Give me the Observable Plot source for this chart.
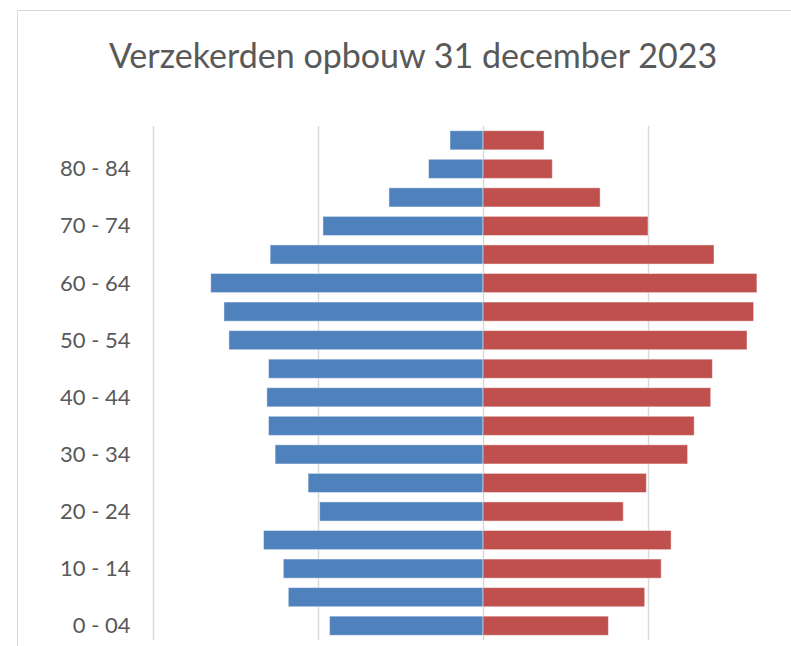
<!DOCTYPE html>
<html>
<head>
<meta charset="utf-8">
<script src="https://cdn.jsdelivr.net/npm/d3@7"></script>
<script src="https://cdn.jsdelivr.net/npm/@observablehq/plot@0.6"></script>
<style>
  html, body { margin: 0; padding: 0; background: #fff; }
  #wrap { position: relative; width: 791px; height: 646px; overflow: hidden; background: #fff; }
  #frame { position: absolute; left: 17px; top: 10px; width: 900px; height: 800px;
           border-left: 1.5px solid #d9d9d9; border-top: 1.5px solid #d9d9d9; box-sizing: border-box; }
  #title { position: absolute; left: 17px; width: 792px; text-align: center; line-height: 1;
           font-family: Lato, "Open Sans", sans-serif; color: #595959; white-space: nowrap; }
  #chart { position: absolute; left: 0; top: 0; }
</style>
</head>
<body>
<div id="wrap">
  <div id="frame"></div>
  <div id="title">Verzekerden opbouw 31 december 2023</div>
  <div id="chart"></div>
</div>
<script>
// Age groups, bottom to top
const ageGroups = ["0 - 04","05 - 09","10 - 14","15 - 19","20 - 24","25 - 29","30 - 34","35 - 39","40 - 44",
                   "45 - 49","50 - 54","55 - 59","60 - 64","65 - 69","70 - 74","75 - 79","80 - 84","85+"];
// Left side (blue)
const mannen  = [93,118,121,133,99,106,126,130,131,130,154,157,165,129,97,57,33,20];
// Right side (red)
const vrouwen = [76,98,108,114,85,99,124,128,138,139,160,164,166,140,100,71,42,37];
// Labelled ticks on the vertical axis
const tickLabels = ["0 - 04","10 - 14","20 - 24","30 - 34","40 - 44","50 - 54","60 - 64","70 - 74","80 - 84"];
// Vertical gridlines
const gridValues = [-200,-100,0,100,200];

const rows = [];
ageGroups.forEach((a, i) => {
  rows.push({age: a, value: -mannen[i], sex: "mannen"});
  rows.push({age: a, value: vrouwen[i], sex: "vrouwen"});
});

// Title sizing
const titleEl = document.getElementById("title");
const targetW = 610;
const ctx = document.createElement("canvas").getContext("2d");
ctx.font = "40px Lato";
const w40 = ctx.measureText(titleEl.textContent).width;
const fs = 40 * targetW / w40;
titleEl.style.fontSize = fs + "px";
titleEl.style.top = (68 - 0.887 * fs) + "px";

const chart = Plot.plot({
  width: 791,
  height: 646,
  marginTop: 126,
  marginBottom: 6,
  marginLeft: 153,
  marginRight: 0,
  style: {background: "transparent", fontFamily: "Lato, sans-serif", overflow: "hidden"},
  x: {domain: [-200, 200], range: [153, 813], axis: null},
  y: {domain: ageGroups.slice().reverse(), paddingInner: 0.33, paddingOuter: 0.165, round: false, axis: null},
  color: {domain: ["mannen","vrouwen"], range: ["#4f81bd","#c0504d"]},
  marks: [
    Plot.ruleX(gridValues, {stroke: "#d9d9d9", strokeWidth: 1.5}),
    Plot.barX(rows, {x: "value", y: "age", fill: "sex", stroke: "#ffffff", strokeOpacity: 0.45, strokeWidth: 1}),
    Plot.axisY(tickLabels, {tickSize: 0, tickPadding: 23, fontSize: 22, fill: "#595959", label: null})
  ]
});
document.getElementById("chart").appendChild(chart);
</script>
</body>
</html>
